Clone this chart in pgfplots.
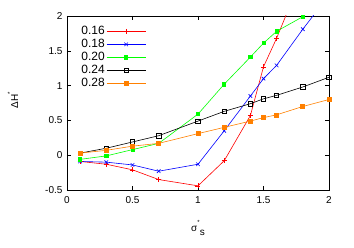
\documentclass[border=0pt]{standalone}
\usepackage{fontspec}
\setmainfont{Liberation Sans}
\usepackage{pgfplots}
\pgfplotsset{compat=1.18}
\begin{document}
\begin{tikzpicture}
\begin{axis}[
  scale only axis, width=262pt, height=174pt,
  at={(0,0)}, anchor=south west,
  xmin=0, xmax=2, ymin=-0.5, ymax=2,
  xtick={0,0.5,1,1.5,2}, xticklabels={0,0.5,1,1.5,2},
  ytick={-0.5,0,0.5,1,1.5,2}, yticklabels={-0.5,0,0.5,1,1.5,2},
  tick align=inside, major tick length=4pt,
  tick style={black, line width=0.5pt},
  axis line style={line width=0.7pt},
  ticklabel style={font=\fontsize{10}{12}\selectfont},
  xticklabel style={yshift=-3pt},
  yticklabel style={xshift=-1pt},
  clip=true,
  legend style={draw=none, fill=none, at={(0.045,0.955)}, anchor=north west,
    font=\fontsize{12}{13}\selectfont, row sep=0pt, legend cell align=right,
    inner sep=1pt, nodes={inner sep=1.5pt}},
  legend plot pos=right,
  legend image code/.code={\draw[#1, mark=none] (0pt,0pt) -- (39pt,0pt);
    \draw[#1, only marks] plot coordinates {(19.5pt,0pt)};},
  every axis plot/.append style={line width=0.6pt, mark options={solid}},
]
\addplot[red, mark=+, mark size=2.5pt] coordinates {
(0.1,-0.09) (0.3,-0.13) (0.5,-0.21) (0.7,-0.35) (1.0,-0.44) (1.2,-0.08) (1.4,0.57) (1.5,1.27) (1.6,1.68) (1.8,2.6)};
\addlegendentry{0.16}
\addplot[blue, mark=x, mark size=2.5pt] coordinates {
(0.1,-0.09) (0.3,-0.10) (0.5,-0.14) (0.7,-0.23) (1.0,-0.13) (1.2,0.35) (1.4,0.85) (1.5,1.10) (1.6,1.29) (1.8,1.81) (2.0,2.3)};
\addlegendentry{0.18}
\addplot[green, mark=square*, mark size=1.6pt] coordinates {
(0.1,-0.06) (0.3,-0.01) (0.5,0.08) (0.7,0.17) (1.0,0.59) (1.2,1.02) (1.4,1.41) (1.5,1.61) (1.6,1.78) (1.8,1.99)};
\addlegendentry{0.20}
\addplot[black, mark=square, mark size=2.2pt] coordinates {
(0.1,0.03) (0.3,0.10) (0.5,0.19) (0.7,0.28) (1.0,0.49) (1.2,0.63) (1.4,0.74) (1.5,0.81) (1.6,0.86) (1.8,0.98) (2.0,1.12)};
\addlegendentry{0.24}
\addplot[orange, mark=square*, mark size=2pt] coordinates {
(0.1,0.03) (0.3,0.07) (0.5,0.13) (0.7,0.17) (1.0,0.31) (1.2,0.40) (1.4,0.49) (1.5,0.54) (1.6,0.58) (1.8,0.70) (2.0,0.80)};
\addlegendentry{0.28}
\end{axis}
\node[rotate=90, font=\fontsize{10}{12}\selectfont] at (-54pt,90pt) {ΔH\raisebox{1.2ex}{\fontsize{6}{7}\selectfont *}};
\node[font=\fontsize{10}{12}\selectfont] at (131pt,-38pt) {σ\rlap{\raisebox{1.2ex}{\fontsize{6}{7}\selectfont *}}\raisebox{-0.7ex}{\hspace{2.5pt}s}};
\pgfresetboundingbox
\path (-67pt,-58pt) rectangle (287pt,190pt);
\end{tikzpicture}
\end{document}
